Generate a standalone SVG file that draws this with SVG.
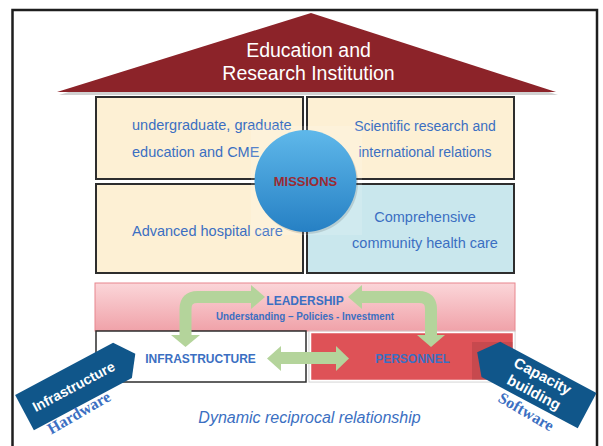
<svg xmlns="http://www.w3.org/2000/svg" width="603" height="446" viewBox="0 0 603 446">
<defs>
<linearGradient id="gCircle" x1="0" y1="0" x2="0" y2="1">
<stop offset="0" stop-color="#5fb8ea"/>
<stop offset="1" stop-color="#2680c4"/>
</linearGradient>
<linearGradient id="gPink" x1="0" y1="0" x2="0" y2="1">
<stop offset="0" stop-color="#fbd6d9"/>
<stop offset="1" stop-color="#f0a2a9"/>
</linearGradient>
<style>
.box{stroke:#2d2d2d;stroke-width:2}
.cream{fill:#fdf0d4}
.cyan{fill:#c9e7ed}
.t{font-family:"Liberation Sans",Arial,sans-serif;fill:#3b6fc2}
.b{font-weight:bold}
.mid{text-anchor:middle}
.arr{fill:none;stroke:#b4d49b;stroke-width:12}
.head{fill:#b4d49b}
.badge{fill:#10568a}
.bt{font-family:"Liberation Sans",Arial,sans-serif;font-weight:bold;fill:#ffffff;text-anchor:middle}
.st{font-family:"Liberation Serif","Times New Roman",serif;font-weight:bold;fill:#3b6fc2;text-anchor:middle;font-size:16px}
</style>
</defs>
<rect x="0" y="0" width="603" height="446" fill="#ffffff"/>
<rect id="frame" x="12.5" y="10" width="584.5" height="450" fill="none" stroke="#1e1e1e" stroke-width="2.5"/>

<g id="roof">
<polygon points="313,16 59,95 558,95" fill="#000" opacity="0.18"/>
<polygon points="311,13 57,92 556,92" fill="#8c2329"/>
<text class="mid" x="308.5" y="57" font-family="Liberation Sans,Arial,sans-serif" font-size="19.5" fill="#ffffff">Education and</text>
<text class="mid" x="308.5" y="80" font-family="Liberation Sans,Arial,sans-serif" font-size="19.5" fill="#ffffff">Research Institution</text>
</g>

<g id="box-education">
<rect class="box cream" x="96" y="97" width="207" height="82"/>
<text class="t" x="132" y="130" font-size="14.5">undergraduate, graduate</text>
<text class="t" x="132" y="157" font-size="14.5">education and CME</text>
</g>
<g id="box-research">
<rect class="box cream" x="307" y="97" width="207" height="82"/>
<text class="t mid" x="425" y="131" font-size="14">Scientific research and</text>
<text class="t mid" x="425" y="157" font-size="14">international relations</text>
</g>
<g id="box-hospital">
<rect class="box cream" x="96" y="184" width="207" height="89"/>
<text class="t" x="132" y="236" font-size="14.5">Advanced hospital care</text>
</g>
<g id="box-community">
<rect class="box cyan" x="307" y="184" width="207" height="89"/>
<text class="t mid" x="425" y="222" font-size="14.5">Comprehensive</text>
<text class="t mid" x="425" y="248" font-size="14.5">community health care</text>
</g>

<g id="missions">
<rect x="251" y="126" width="111" height="109" fill="#ffffff" opacity="0.14"/>
<circle cx="307" cy="183" r="51" fill="#000" opacity="0.12"/>
<circle cx="305.5" cy="181" r="51" fill="url(#gCircle)"/>
<text class="mid b" x="305.5" y="185.5" font-family="Liberation Sans,Arial,sans-serif" font-size="13" fill="#9b2a33">MISSIONS</text>
</g>

<g id="leadership">
<rect x="95" y="283" width="420" height="48" fill="url(#gPink)" stroke="#e8868d" stroke-width="1"/>
<text class="t b mid" x="305" y="305" font-size="12">LEADERSHIP</text>
<text class="t b mid" x="305" y="320" font-size="10" textLength="178" lengthAdjust="spacingAndGlyphs">Understanding – Policies - Investment</text>
</g>

<g id="infrastructure">
<rect x="96" y="331" width="210" height="51" fill="#ffffff" stroke="#2d2d2d" stroke-width="1.5"/>
<text class="t b mid" x="200.5" y="363" font-size="12">INFRASTRUCTURE</text>
</g>

<g id="personnel">
<rect x="309" y="331" width="206" height="51" fill="none" stroke="#cfcfcf" stroke-width="1"/>
<rect x="310.5" y="332.5" width="203" height="48" fill="#de5257" stroke="#ffffff" stroke-width="1.5"/>
<rect x="472" y="342" width="41" height="38" fill="#000" opacity="0.1"/>
<text class="t b mid" x="412.5" y="363" font-size="12">PERSONNEL</text>
</g>

<g id="connectors">
<path class="arr" d="M185.5 336 V309 Q185.5 297 197.5 297 H252"/>
<polygon class="head" points="251,285 265,297 251,309"/>
<polygon class="head" points="171,335 200,335 185.5,347"/>
<path class="arr" d="M361 297 H419 Q431 297 431 309 V336"/>
<polygon class="head" points="362,285 348,297 362,309"/>
<polygon class="head" points="417,335 445,335 431,347"/>
<path class="arr" d="M280 358 H337"/>
<polygon class="head" points="281,346 267,358.5 281,371"/>
<polygon class="head" points="336,346 349,358.5 336,371"/>
</g>

<g id="badge-infrastructure">
<g transform="translate(73.5 386.5) rotate(-28)">
<polygon class="badge" points="-55.5,-20 55.5,-20 70,0 55.5,20 -55.5,20"/>
<text class="bt" x="0" y="5" font-size="14">Infrastructure</text>
</g>
<text class="st" transform="translate(79 413) rotate(-30)" x="0" y="5">Hardware</text>
</g>

<g id="badge-capacity">
<g transform="translate(539 385) rotate(28)">
<polygon class="badge" points="-70,0 -54.5,-20 54.5,-20 54.5,20 -54.5,20"/>
<text class="bt" x="-1" y="-4.5" font-size="15">Capacity</text>
<text class="bt" x="-1" y="14" font-size="15">building</text>
</g>
<text class="st" transform="translate(526 412) rotate(30)" x="0" y="5">Software</text>
</g>

<g id="caption">
<text class="t mid" x="309.5" y="423" font-size="16" font-style="italic">Dynamic reciprocal relationship</text>
</g>
</svg>
